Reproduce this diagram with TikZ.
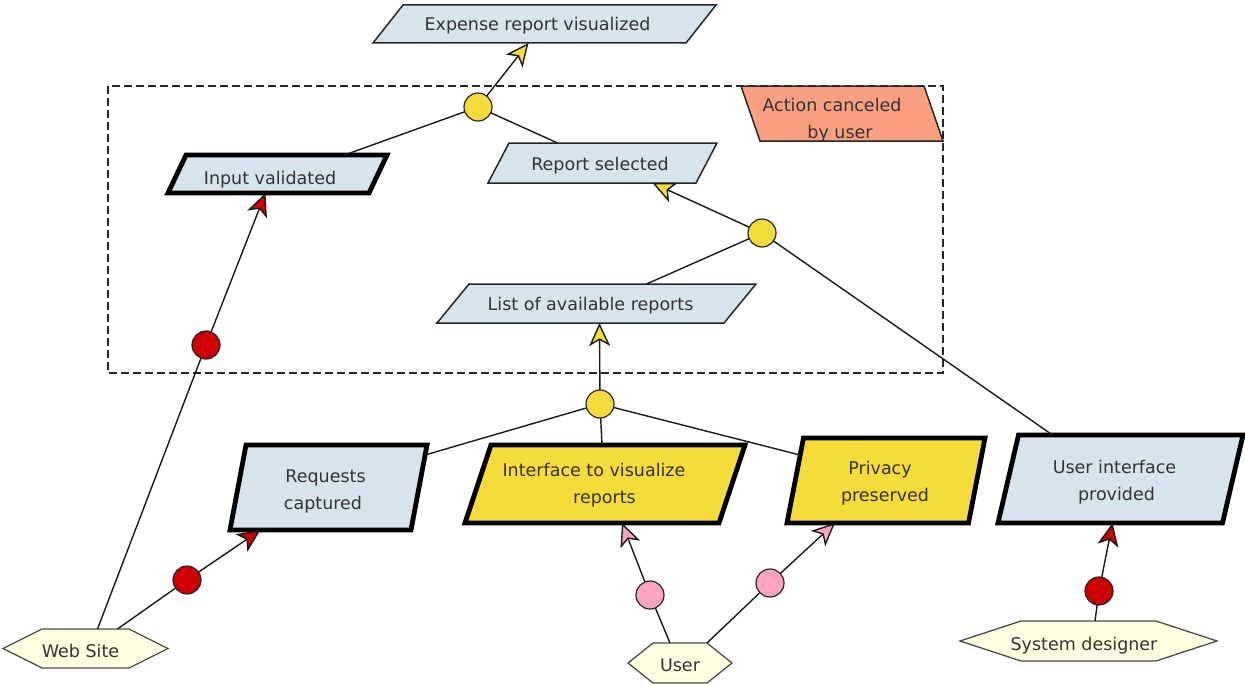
\documentclass[tikz,border=0pt]{standalone}
\usepackage{fontspec}
\setmainfont{DejaVu Sans}
\usetikzlibrary{arrows.meta,backgrounds}

\definecolor{boxblue}{HTML}{D6E4EE}
\definecolor{goalyellow}{HTML}{F5DC3A}
\definecolor{dotred}{HTML}{CC0000}
\definecolor{dotpink}{HTML}{FFA3C4}
\definecolor{actorcream}{HTML}{FFFEE0}
\definecolor{cancelorange}{HTML}{F9A083}
\definecolor{inkgray}{HTML}{333333}

% parallelogram whose top edge is shifted right by #2
\newcommand{\slantright}[3]{%
  \path[#3] ([xshift=#2pt]#1.north west) -- (#1.north east) -- ([xshift=-#2pt]#1.south east) -- (#1.south west) -- cycle;}
% parallelogram whose bottom edge is shifted right by #2
\newcommand{\slantleft}[3]{%
  \path[#3] (#1.north west) -- ([xshift=-#2pt]#1.north east) -- (#1.south east) -- ([xshift=#2pt]#1.south west) -- cycle;}
% flat hexagon with pointed ends of depth #2
\newcommand{\hexoutline}[3]{%
  \path[#3] (#1.west) -- ([xshift=#2pt]#1.north west) -- ([xshift=-#2pt]#1.north east) -- (#1.east) -- ([xshift=-#2pt]#1.south east) -- ([xshift=#2pt]#1.south west) -- cycle;}
% text moved by (#1,#2) pt inside its shape, without changing the shape
\newcommand{\nudged}[3]{\hspace*{#1pt}\raisebox{#2pt}[\height][\depth]{#3}\hspace*{-#1pt}}
\newcommand{\twolines}[2]{\begin{tabular}{@{}c@{}}#1\\#2\end{tabular}}

\begin{document}
\begin{tikzpicture}[x=1pt,y=-1pt,
  every node/.style={font=\fontsize{17.5}{27}\selectfont, text=inkgray, inner sep=0pt, outer sep=0pt},
  area/.style={rectangle, align=center},
  joindot/.style={circle, minimum size=28pt, draw=black!85, line width=1.2pt},
  anddot/.style={joindot, fill=goalyellow},
  reddot/.style={joindot, fill=dotred},
  pinkdot/.style={joindot, fill=dotpink},
  link/.style={draw=black!90, line width=1.4pt},
  tipshape/.style={-{Stealth[length=23pt,width=21pt,inset=6pt,fill=#1,line join=miter]}},
  yarrow/.style={link, tipshape=goalyellow},
  rarrow/.style={link, tipshape=dotred},
  parrow/.style={link, tipshape=dotpink},
  thinbox/.style={draw=black!85, line width=1.5pt, line join=miter},
  thickbox/.style={draw=black, line width=4.8pt, line join=miter},
  actorbox/.style={draw=black!70, line width=1.3pt, fill=actorcream, line join=miter},
  boundary/.style={draw=black!85, line width=2pt, dash pattern=on 8pt off 4pt}
]
\useasboundingbox (0,0) rectangle (1245,685);

% boundary of the system
\node[area, minimum width=835pt, minimum height=287pt] (bnd) at (525.5,229.5) {};

% goals
\node[area, minimum width=343pt, minimum height=38pt] (exp) at (544.5,24) {\nudged{-7}{-2}{Expense report visualized}};
\node[area, minimum width=219pt, minimum height=38pt] (inp) at (277.5,174) {\nudged{-7.5}{-6}{Input validated}};
\node[area, minimum width=229pt, minimum height=40pt] (rep) at (602.5,163) {\nudged{-2.5}{-2.5}{Report selected}};
\node[area, minimum width=319pt, minimum height=39pt] (lst) at (596.5,303.5) {\nudged{-6}{-2.5}{List of available reports}};
\node[area, minimum width=202pt, minimum height=55pt] (act) at (842,113.5)
  {\nudged{0}{-6}{\twolines{\nudged{-10}{0}{Action canceled}}{\nudged{-2}{0}{by user}}}};
\node[area, minimum width=197pt, minimum height=85pt] (req) at (328.5,487.5)
  {\nudged{0}{-3}{\twolines{\nudged{-3}{0}{Requests}}{\nudged{-5.5}{0}{captured}}}};
\node[area, minimum width=280pt, minimum height=78pt] (itf) at (605,484)
  {\nudged{0}{-1}{\twolines{\nudged{-11}{0}{Interface to visualize}}{\nudged{-0.5}{0}{reports}}}};
\node[area, minimum width=198pt, minimum height=85pt] (prv) at (886,480.5)
  {\nudged{0}{-2.5}{\twolines{\nudged{-6}{0}{Privacy}}{\nudged{-1}{0}{preserved}}}};
\node[area, minimum width=245pt, minimum height=88pt] (uip) at (1120.5,479)
  {\nudged{0}{-2.5}{\twolines{\nudged{-6}{0}{User interface}}{\nudged{-4}{0}{provided}}}};

% actors
\node[area, minimum width=165pt, minimum height=39pt] (web) at (85.5,648.5) {\nudged{-5}{-2}{Web Site}};
\node[area, minimum width=104pt, minimum height=40pt] (usr) at (680,663) {\nudged{0}{-2}{User}};
\node[area, minimum width=257pt, minimum height=40pt] (sys) at (1088.5,641) {\nudged{-4.5}{-5}{System designer}};

% refinement and contribution dots
\node[anddot] (c1) at (478,107) {};
\node[anddot] (c2) at (762,233) {};
\node[anddot] (c3) at (600,404) {};
\node[reddot] (c4) at (206,345) {};
\node[reddot] (c5) at (187,580) {};
\node[pinkdot] (c6) at (650,595) {};
\node[pinkdot] (c7) at (770,583) {};
\node[reddot] (c8) at (1099,591) {};

% outlines behind the texts
\begin{scope}[on background layer]
  \draw[boundary] (bnd.north west) rectangle (bnd.south east);
  \slantright{exp}{30}{thinbox, fill=boxblue}
  \slantright{inp}{18}{thickbox, fill=boxblue}
  \slantright{rep}{21}{thinbox, fill=boxblue}
  \slantright{lst}{32}{thinbox, fill=boxblue}
  \slantleft{act}{19}{thinbox, fill=cancelorange}
  \slantright{req}{16}{thickbox, fill=boxblue}
  \slantright{itf}{26}{thickbox, fill=goalyellow}
  \slantright{prv}{16.5}{thickbox, fill=goalyellow}
  \slantright{uip}{20.5}{thickbox, fill=boxblue}
  \hexoutline{web}{39}{actorbox}
  \hexoutline{usr}{25}{actorbox}
  \hexoutline{sys}{61}{actorbox}
\end{scope}

% refinements
\draw[yarrow] (c1) -- ([xshift=-16pt]exp.south);
\draw[link] (c1) -- ([xshift=67pt]inp.north);
\draw[link] (c1) -- ([xshift=-45pt]rep.north);
\draw[yarrow] (c2) -- ([xshift=50pt]rep.south);
\draw[link] (c2) -- ([xshift=50pt]lst.north);
\draw[link] (c2) -- ([xshift=-68pt]uip.north);
\draw[yarrow] (c3) -- ([xshift=3pt]lst.south);
\draw[link] (c3) -- ([xshift=-2pt,yshift=-10pt]req.north east);
\draw[link] (c3) -- ([xshift=-3pt]itf.north);
\draw[link] (c3) -- ([xshift=13pt,yshift=-17pt]prv.north west);

% responsibilities
\draw[link] ([xshift=12pt]web.north) -- (c4);
\draw[rarrow] (c4) -- ([xshift=-12pt]inp.south);
\draw[link] ([xshift=32pt]web.north) -- (c5);
\draw[rarrow] (c5) -- ([xshift=-68pt]req.south);
\draw[link] ([xshift=-10pt]usr.north) -- (c6);
\draw[parrow] (c6) -- ([xshift=17pt]itf.south);
\draw[link] ([xshift=27pt]usr.north) -- (c7);
\draw[parrow] (c7) -- ([xshift=-51pt]prv.south);
\draw[link] ([xshift=6.5pt]sys.north) -- (c8);
\draw[rarrow] (c8) -- ([xshift=-8pt]uip.south);
\end{tikzpicture}
\end{document}
